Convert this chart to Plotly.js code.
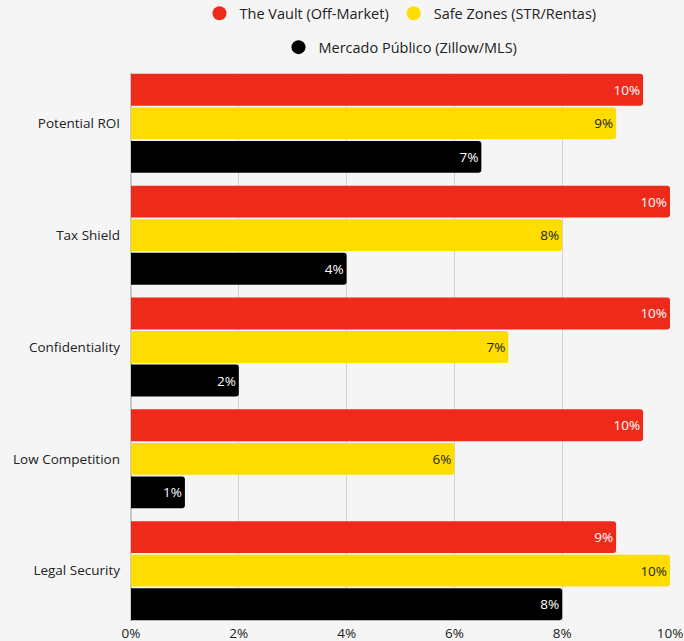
<!DOCTYPE html>
<html>
<head>
<meta charset="utf-8">
<script src="https://cdn.plot.ly/plotly-3.0.1.min.js"></script>
<style>html,body{margin:0;padding:0;background:#f5f5f5;}#chart{width:684px;height:641px;}</style>
</head>
<body>
<div id="chart"></div>
<script>
const categories = ["Potential ROI", "Tax Shield", "Confidentiality", "Low Competition", "Legal Security"];
const vaultValues = [9.5, 10, 10, 9.5, 9];
const safeValues = [9, 8, 7, 6, 10];
const publicValues = [6.5, 4, 2, 1, 8];
const seriesNames = ["The Vault (Off-Market)", "Safe Zones (STR/Rentas)", "Mercado Público (Zillow/MLS)"];
const seriesColors = ["#EE2B1B", "#FFDD00", "#000000"];
const textColors = ["#ffffff", "#222222", "#ffffff"];
const tickVals = [0, 2, 4, 6, 8, 10];
const tickText = ["0%", "2%", "4%", "6%", "8%", "10%"];

const FONT = "Open Sans, Lato, sans-serif";
const allValues = [vaultValues, safeValues, publicValues];
const GAP = 0.1;

const traces = allValues.map((vals, i) => ({
  type: "bar",
  orientation: "h",
  y: categories,
  x: vals,
  name: seriesNames[i],
  marker: {color: seriesColors[i], line: {width: 0}},
  texttemplate: "%{x:.0f}%",
  textposition: "inside",
  insidetextanchor: "end",
  textfont: {color: textColors[i], size: 13.5, family: FONT},
  showlegend: false,
  hoverinfo: "x+y"
}));

// legend-only traces with circular symbols
const legendTraces = seriesNames.map((n, i) => ({
  type: "scatter",
  mode: "markers",
  x: [null], y: [null],
  name: n,
  marker: {color: seriesColors[i], size: 14, symbol: "circle"},
  showlegend: true,
  legend: i < 2 ? "legend" : "legend2"
}));

const layout = {
  width: 684, height: 641,
  paper_bgcolor: "#f5f5f5",
  plot_bgcolor: "#f5f5f5",
  font: {family: FONT, size: 13, color: "#222222"},
  margin: {l: 131, r: 14, t: 73, b: 20, pad: 0, autoexpand: false},
  barmode: "group",
  bargap: GAP,
  bargroupgap: 0.05,
  barcornerradius: 3,
  xaxis: {
    range: [0, 10],
    tickvals: tickVals,
    ticktext: tickText,
    showgrid: true,
    gridcolor: "#d2d2d2",
    gridwidth: 1,
    zeroline: true,
    zerolinecolor: "#c8c8c8",
    zerolinewidth: 1.5,
    showline: false,
    ticks: "",
    ticklabelstandoff: 2,
    tickfont: {size: 13.5, color: "#222222"},
    fixedrange: true
  },
  yaxis: {
    type: "category",
    range: [categories.length - 0.5 - GAP / 2, -0.5 + GAP / 2],
    showgrid: false,
    zeroline: false,
    showline: false,
    ticks: "",
    ticklabelstandoff: 10,
    tickfont: {size: 13.5, color: "#222222"},
    fixedrange: true
  },
  legend: {
    orientation: "h",
    x: 0.5, xanchor: "center",
    y: 1.109, yanchor: "middle",
    xref: "paper", yref: "paper",
    bgcolor: "rgba(0,0,0,0)",
    font: {size: 14.5, color: "#222222", family: FONT},
    itemwidth: 30
  },
  legend2: {
    orientation: "h",
    x: 0.5, xanchor: "center",
    y: 1.047, yanchor: "middle",
    xref: "paper", yref: "paper",
    bgcolor: "rgba(0,0,0,0)",
    font: {size: 14.5, color: "#222222", family: FONT},
    itemwidth: 30
  },
  showlegend: true
};

Plotly.newPlot("chart", traces.concat(legendTraces), layout, {displayModeBar: false, responsive: false});
</script>
</body>
</html>
